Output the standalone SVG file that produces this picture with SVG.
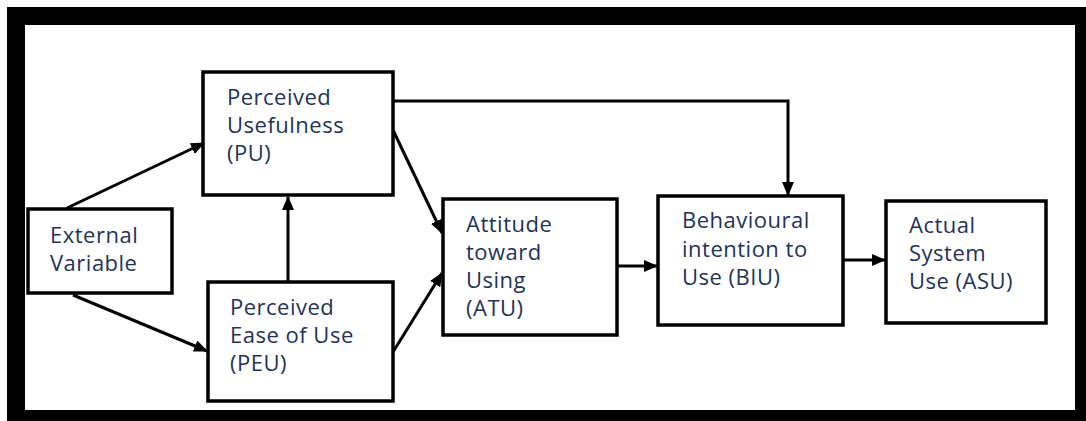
<svg xmlns="http://www.w3.org/2000/svg" width="1086" height="421" viewBox="0 0 1086 421">
<style>
.box{fill:#fff;stroke:#000;stroke-width:3.5}
.lbl{font-family:"Open Sans","Noto Sans",sans-serif;font-size:22px;letter-spacing:0.5px;fill:#1f3358}
.edge{fill:none;stroke:#000;stroke-width:3;marker-end:url(#ah)}
</style>
<defs>
<marker id="ah" markerUnits="userSpaceOnUse" markerWidth="14" markerHeight="12" refX="13" refY="6" orient="auto">
<path d="M0,0 L14,6 L0,12 Z" fill="#000"/>
</marker>
</defs>
<rect x="0" y="0" width="1086" height="421" fill="#fff"/>
<rect x="16" y="16" width="1068" height="403" fill="none" stroke="#000" stroke-width="18"/>
<g id="connectors">
<path class="edge" d="M67,208 L204,143"/>
<path class="edge" d="M73,295 L207,351"/>
<path class="edge" d="M288,282 L288,197"/>
<path class="edge" d="M393,130 L442,233"/>
<path class="edge" d="M393,352 L442,273"/>
<path class="edge" d="M393,101 L788,101 L788,195"/>
<path class="edge" d="M617,266 L657,266"/>
<path class="edge" d="M843,260 L885,260"/>
</g>
<g id="ev"><rect class="box" x="28" y="209" width="144" height="84"/>
<text class="lbl" x="50" y="243">External</text><text class="lbl" x="50" y="271">Variable</text></g>
<g id="pu"><rect class="box" x="203" y="72" width="190" height="123"/>
<text class="lbl" x="227" y="105">Perceived</text><text class="lbl" x="227" y="133">Usefulness</text><text class="lbl" x="227" y="161">(PU)</text></g>
<g id="peu"><rect class="box" x="208" y="282" width="185" height="119"/>
<text class="lbl" x="230" y="315">Perceived</text><text class="lbl" x="230" y="343">Ease of Use</text><text class="lbl" x="230" y="371">(PEU)</text></g>
<g id="atu"><rect class="box" x="443" y="199" width="174" height="136"/>
<text class="lbl" x="466" y="232">Attitude</text><text class="lbl" x="466" y="260">toward</text><text class="lbl" x="466" y="288">Using</text><text class="lbl" x="466" y="316">(ATU)</text></g>
<g id="biu"><rect class="box" x="658" y="196" width="185" height="129"/>
<text class="lbl" x="682" y="228">Behavioural</text><text class="lbl" x="682" y="257">intention to</text><text class="lbl" x="682" y="285">Use (BIU)</text></g>
<g id="asu"><rect class="box" x="886" y="201" width="160" height="122"/>
<text class="lbl" x="909" y="233">Actual</text><text class="lbl" x="909" y="261">System</text><text class="lbl" x="909" y="289">Use (ASU)</text></g>
</svg>
